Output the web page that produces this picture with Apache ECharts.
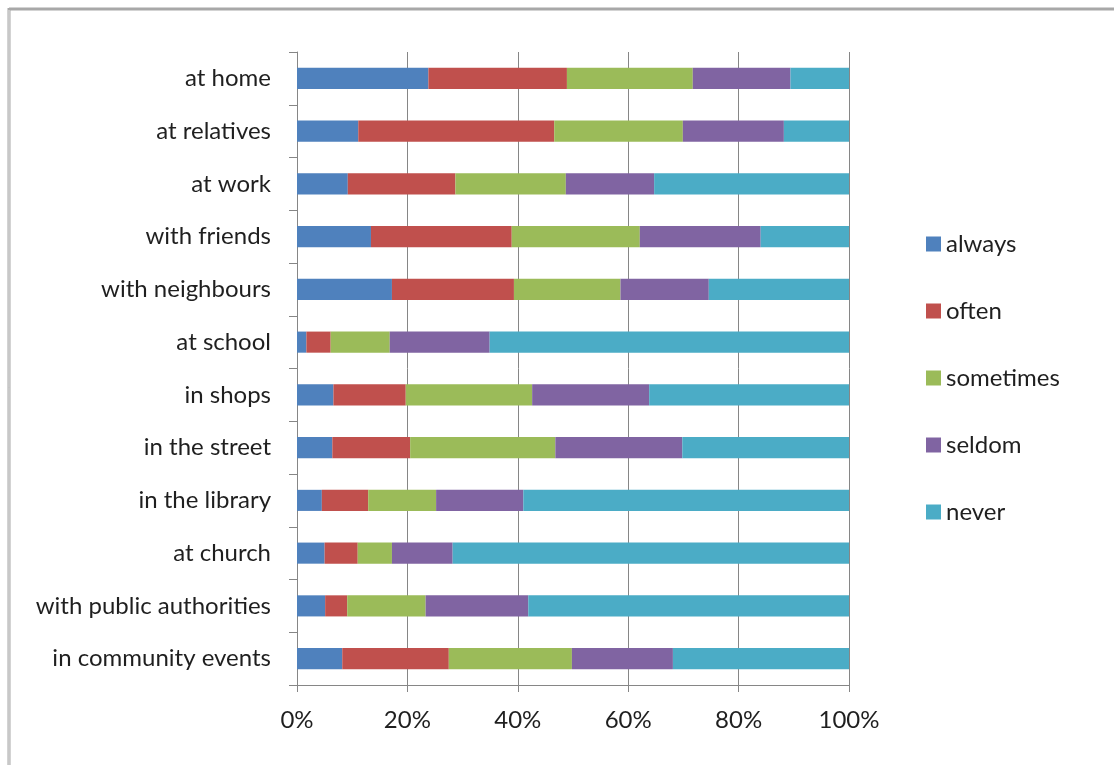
<!DOCTYPE html>
<html>
<head>
<meta charset="utf-8">
<script src="https://cdn.jsdelivr.net/npm/echarts@6/dist/echarts.min.js"></script>
<style>
  html, body { margin: 0; padding: 0; background: #ffffff; }
  #chart { width: 1114px; height: 765px; }
</style>
</head>
<body>
<div id="chart"></div>
<script>
// Places where the language is spoken, top to bottom
const categories = [
  'at home', 'at relatives', 'at work', 'with friends', 'with neighbours',
  'at school', 'in shops', 'in the street', 'in the library', 'at church',
  'with public authorities', 'in community events'
];

// Share of answers per frequency (percent of respondents)
const always    = [23.8, 11.1,  9.2, 13.4, 17.2,  1.7,  6.6,  6.4,  4.5,  5.0,  5.1,  8.2];
const often     = [25.1, 35.5, 19.5, 25.5, 22.1,  4.4, 13.1, 14.1,  8.4,  6.0,  4.0, 19.3];
const sometimes = [22.8, 23.3, 20.0, 23.2, 19.3, 10.7, 22.9, 26.3, 12.3,  6.2, 14.2, 22.3];
const seldom    = [17.7, 18.3, 16.0, 21.9, 16.0, 18.1, 21.2, 23.0, 15.8, 11.0, 18.6, 18.3];
const never     = [10.6, 11.8, 35.3, 16.0, 25.4, 65.1, 36.2, 30.2, 59.0, 71.8, 58.1, 31.9];

const seriesNames = ['always', 'often', 'sometimes', 'seldom', 'never'];
const seriesData = [always, often, sometimes, seldom, never];
const colors = ['#4f81bd', '#c0504d', '#9bbb59', '#8064a2', '#4bacc6'];

const font = 'Lato, "Open Sans", sans-serif';
const textColor = '#1f1f1f';
const axisGray = '#868686';

const chart = echarts.init(document.getElementById('chart'), null, { renderer: 'canvas' });

chart.setOption({
  backgroundColor: '#ffffff',
  animation: false,
  color: colors,
  textStyle: { fontFamily: font },
  graphic: [
    { type: 'line', shape: { x1: 9, y1: 9, x2: 1114, y2: 9 }, style: { stroke: '#a8a8a8', lineWidth: 3 } },
    { type: 'line', shape: { x1: 9, y1: 8, x2: 9, y2: 765 }, style: { stroke: '#a8a8a8', lineWidth: 3 } },
    { type: 'line', shape: { x1: 9, y1: 10, x2: 9, y2: 765 }, style: { stroke: '#e8e8e8', lineWidth: 1 } }
  ],
  grid: { left: 297, right: 265, top: 52, bottom: 80, containLabel: false },
  legend: {
    orient: 'vertical',
    left: 921,
    top: 227,
    itemWidth: 15,
    itemHeight: 15,
    itemGap: 43,
    icon: 'rect',
    data: seriesNames,
    textStyle: { fontFamily: font, fontSize: 24, color: textColor }
  },
  xAxis: {
    type: 'value',
    min: 0,
    max: 100,
    interval: 20,
    axisLine: { show: true, lineStyle: { color: axisGray, width: 1 } },
    axisTick: { show: true, length: 7, lineStyle: { color: axisGray } },
    splitLine: { show: true, lineStyle: { color: axisGray, width: 1 } },
    axisLabel: {
      formatter: '{value}%',
      fontFamily: font,
      fontSize: 24,
      color: textColor,
      margin: 23
    }
  },
  yAxis: {
    type: 'category',
    inverse: true,
    data: categories,
    axisLine: { show: true, lineStyle: { color: axisGray, width: 1 } },
    axisTick: { show: true, length: 8, alignWithLabel: false, lineStyle: { color: axisGray } },
    axisLabel: { fontFamily: font, fontSize: 24, color: textColor, margin: 26 }
  },
  series: seriesNames.map((name, i) => ({
    name: name,
    type: 'bar',
    stack: 'total',
    barWidth: '40%',
    data: seriesData[i],
    itemStyle: { color: colors[i] }
  }))
});
</script>
</body>
</html>
